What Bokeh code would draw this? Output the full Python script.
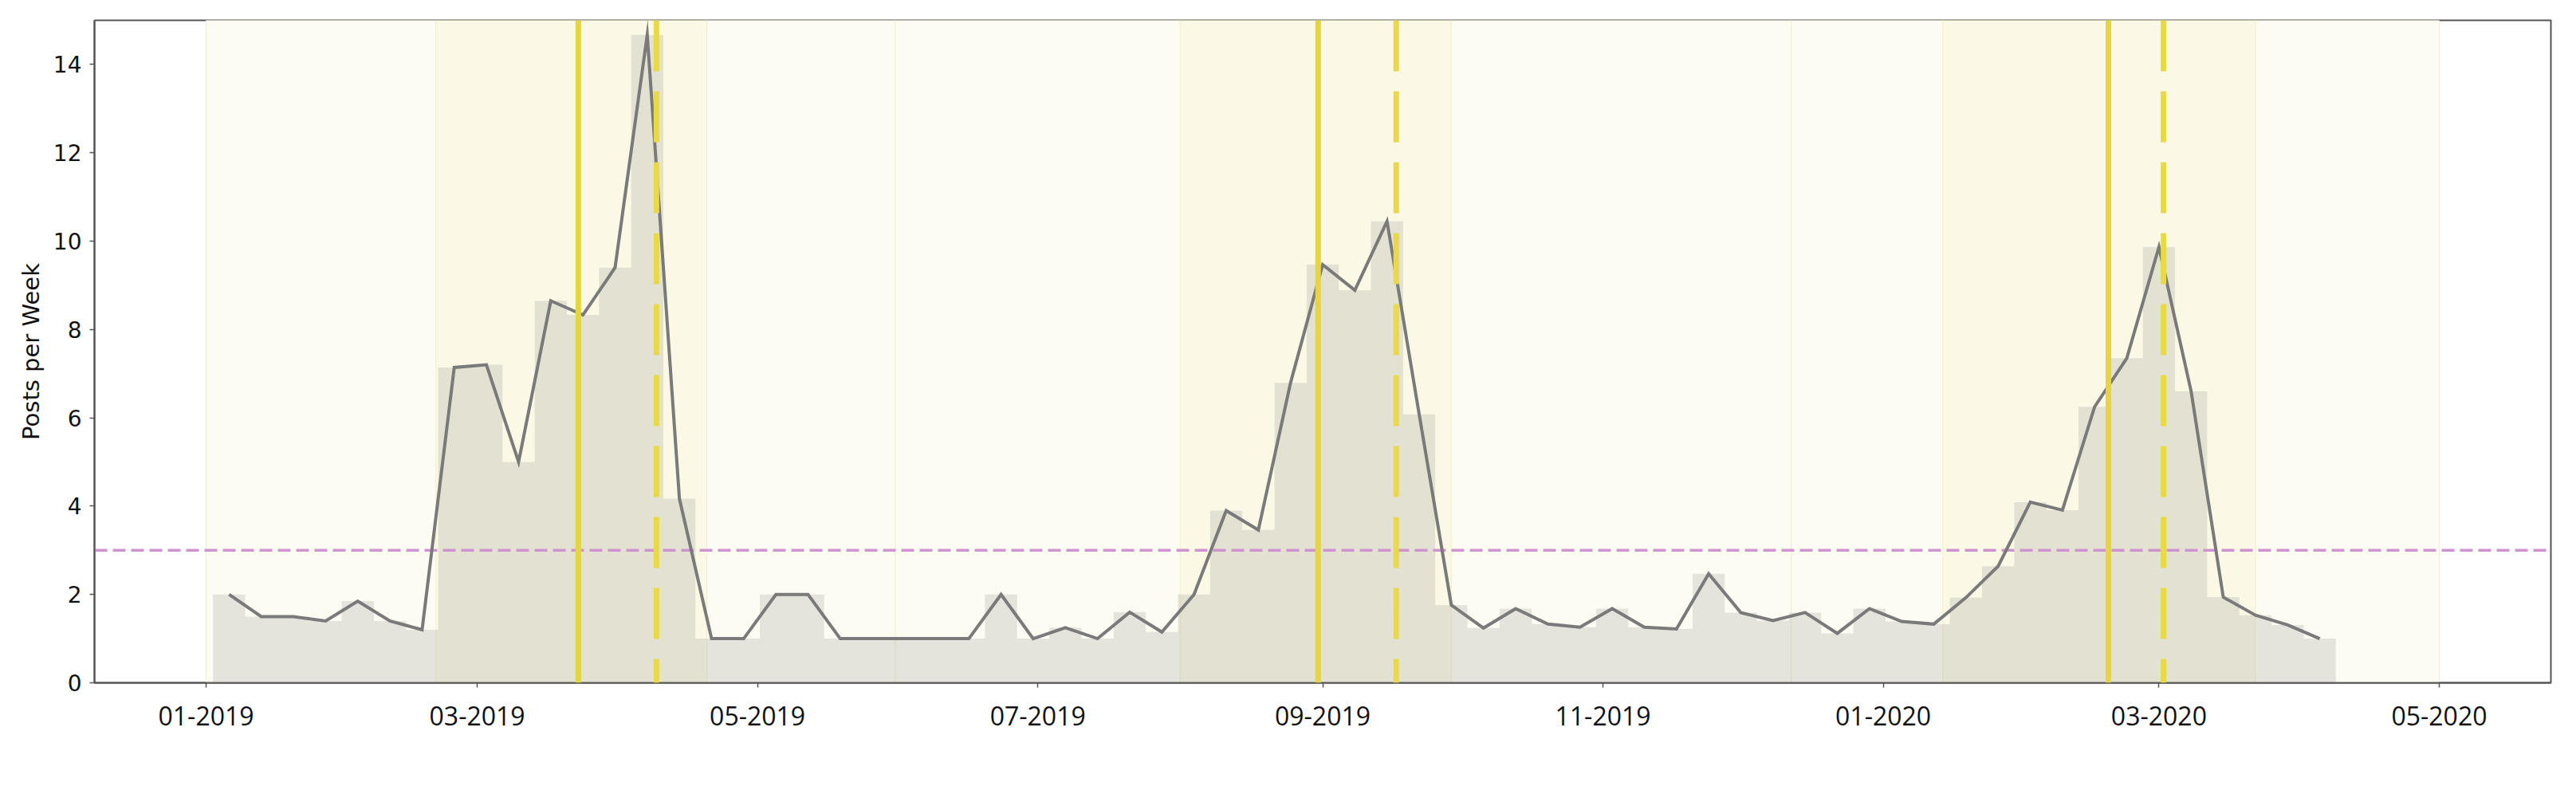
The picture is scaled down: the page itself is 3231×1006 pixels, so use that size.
import pandas as pd
from bokeh.plotting import figure
from bokeh.models import FixedTicker, Span, Range1d
from bokeh.embed import file_html
from bokeh.resources import INLINE

# ---------------- data ----------------
FIRST_WEEK = "2019-01-06"   # centre of the first weekly bin
POSTS = [2.0, 1.5, 1.5, 1.4, 1.85, 1.4, 1.2, 7.14, 7.2, 5.0,
         8.65, 8.33, 9.4, 14.67, 4.17, 1.0, 1.0, 2.0, 2.0, 1.0,
         1.0, 1.0, 1.0, 1.0, 2.0, 1.0, 1.25, 1.0, 1.6, 1.15,
         2.0, 3.9, 3.46, 6.79, 9.47, 8.89, 10.45, 6.08, 1.76, 1.24,
         1.68, 1.33, 1.26, 1.68, 1.26, 1.22, 2.47, 1.59, 1.41, 1.59,
         1.12, 1.68, 1.39, 1.33, 1.93, 2.64, 4.09, 3.91, 6.25, 7.35,
         9.87, 6.6, 1.94, 1.53, 1.31, 1.0]

BAND_STARTS = ["2019-01-01", "2019-02-20", "2019-04-20", "2019-05-31", "2019-08-01",
               "2019-09-29", "2019-12-12", "2020-01-14", "2020-03-22"]
BAND_ENDS = ["2019-02-20", "2019-04-20", "2019-05-31", "2019-08-01", "2019-09-29",
             "2019-12-12", "2020-01-14", "2020-03-22", "2020-05-01"]
BAND_KIND = ["light", "dark", "light", "light", "dark", "light", "light", "dark", "light"]

EVENTS_SOLID = ["2019-03-23", "2019-08-31", "2020-02-19"]
EVENTS_DASHED = ["2019-04-09", "2019-09-17", "2020-03-02"]

THRESHOLD = 3

TICK_DATES = ["2019-01-01", "2019-03-01", "2019-05-01", "2019-07-01", "2019-09-01",
              "2019-11-01", "2020-01-01", "2020-03-01", "2020-05-01"]
TICK_LABELS = ["01-2019", "03-2019", "05-2019", "07-2019", "09-2019",
               "11-2019", "01-2020", "03-2020", "05-2020"]
Y_TICKS = [0, 2, 4, 6, 8, 10, 12, 14]
Y_LABEL = "Posts per Week"


def ms(d):
    return pd.Timestamp(d).value / 1e6


DAY = 86400000.0
weeks = pd.date_range(FIRST_WEEK, periods=len(POSTS), freq="7D")
xs = [ms(w) for w in weeks]

span_start = ms(BAND_STARTS[0])
span_end = ms(BAND_ENDS[-1])
pad = 0.05 * (span_end - span_start)

p = figure(width=3231, height=1000, output_backend="svg", toolbar_location=None,
           x_range=Range1d(span_start - pad, span_end + pad),
           y_range=Range1d(0, 15),
           min_border_left=118, min_border_right=32, min_border_top=25, min_border_bottom=144,
           background_fill_color="white", border_fill_color="white")

band_colors = {"light": "#fcfcf2", "dark": "#fbf9e6"}
p.quad(left=[ms(d) for d in BAND_STARTS], right=[ms(d) for d in BAND_ENDS],
       bottom=0, top=15,
       fill_color=[band_colors[k] for k in BAND_KIND],
       line_color="#f4efcc", line_width=1)

p.vbar(x=xs, width=7 * DAY, top=POSTS, bottom=0,
       fill_color="#808080", fill_alpha=0.19, line_color=None)

p.add_layout(Span(location=THRESHOLD, dimension="width", line_color="#cf93cf",
                  line_width=3.5, line_dash="16 7", level="glyph"))

line = p.line(xs, POSTS, line_color="#7a7a7a", line_width=4, line_join="miter")
line.level = "annotation"

for d in EVENTS_SOLID:
    p.add_layout(Span(location=ms(d), dimension="height", line_color="#e6d442",
                      line_width=7, level="overlay"))
for d in EVENTS_DASHED:
    p.add_layout(Span(location=ms(d), dimension="height", line_color="#e8d84a",
                      line_width=7, line_dash="64 25", level="overlay"))

# axes
p.xgrid.visible = False
p.ygrid.visible = False
p.outline_line_color = "#555555"
p.outline_line_width = 2
p.outline_line_alpha = 1

p.xaxis.ticker = FixedTicker(ticks=[ms(d) for d in TICK_DATES])
p.xaxis.major_label_overrides = {ms(d): lab for d, lab in zip(TICK_DATES, TICK_LABELS)}
p.yaxis.ticker = FixedTicker(ticks=Y_TICKS)

for ax in (p.xaxis, p.yaxis):
    ax.axis_line_color = "#555555"
    ax.axis_line_width = 2
    ax.major_tick_line_color = "#555555"
    ax.major_tick_line_width = 1.5
    ax.major_tick_out = 6
    ax.major_tick_in = 0
    ax.minor_tick_line_color = None
    ax.major_label_text_color = "#111111"

p.xaxis.major_label_text_font = "Open Sans"
p.xaxis.major_label_text_font_size = "32px"
p.xaxis.major_label_standoff = 23

p.yaxis.major_label_text_font = "DejaVu Sans"
p.yaxis.major_label_text_font_size = "28px"
p.yaxis.major_label_standoff = 10
p.yaxis.axis_label = Y_LABEL
p.yaxis.axis_label_text_font = "DejaVu Sans"
p.yaxis.axis_label_text_font_size = "29px"
p.yaxis.axis_label_text_font_style = "normal"
p.yaxis.axis_label_text_color = "#111111"
p.yaxis.axis_label_standoff = 8

open("out.html", "w").write(file_html(p, INLINE))
